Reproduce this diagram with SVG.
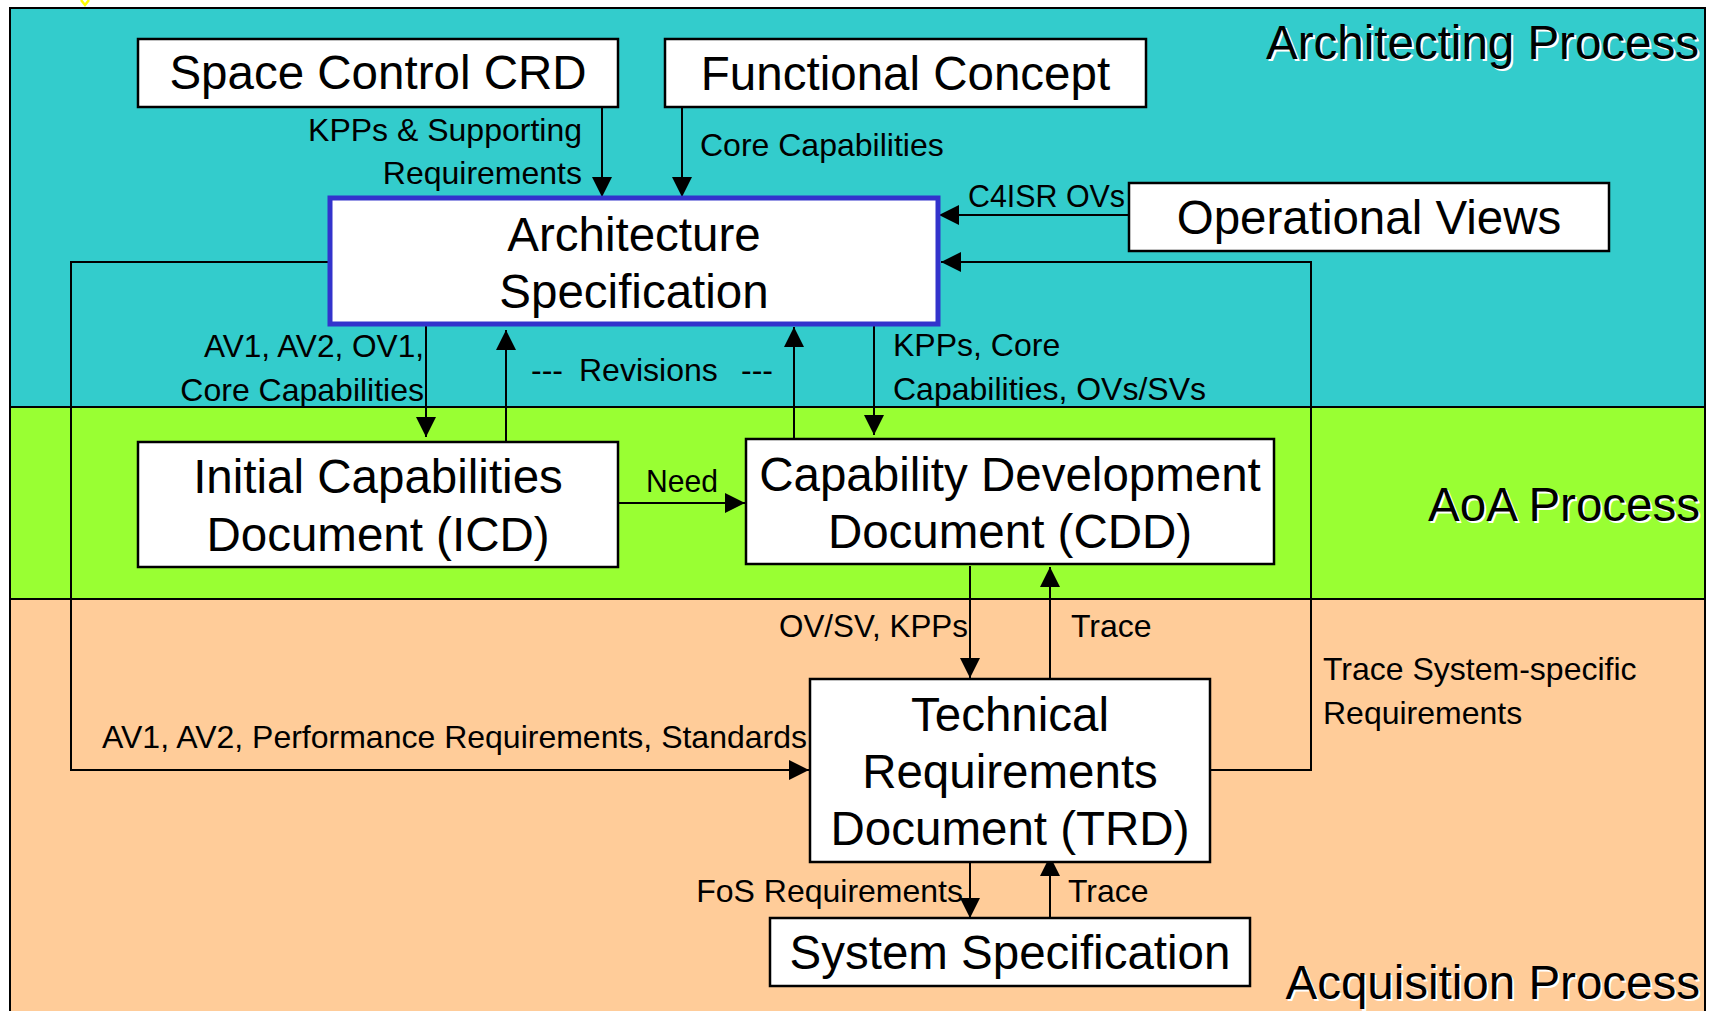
<svg xmlns="http://www.w3.org/2000/svg" width="1711" height="1011" viewBox="0 0 1711 1011">
  <style>
    .box { fill: #FFFFFF; stroke: #000000; stroke-width: 2.5; }
    .arch { fill: #FFFFFF; stroke: #3333CC; stroke-width: 5; }
    .big { font-family: "Liberation Sans", Arial, sans-serif; font-size: 47.5px; fill: #000000; text-anchor: middle; }
    .lbl { font-family: "Liberation Sans", Arial, sans-serif; font-size: 32px; fill: #000000; }
    .end { text-anchor: end; }
    .region { font-family: "Liberation Sans", Arial, sans-serif; font-size: 47.5px; text-anchor: end; }
    .shadow { fill: #FFFFFF; }
    .ink { fill: #000000; }
    .conn { fill: none; stroke: #000000; stroke-width: 2; }
    .band { stroke: #000000; stroke-width: 2; }
  </style>
  <defs>
    <marker id="arrow" markerUnits="userSpaceOnUse" markerWidth="20" markerHeight="20" refX="20" refY="10" orient="auto">
      <path d="M0,0 L20,10 L0,20 z" fill="#000000"/>
    </marker>
  </defs>

  <!-- page background -->
  <rect x="0" y="0" width="1711" height="1011" fill="#FFFFFF"/>
  <path d="M81,0 L85,5 L89,0" fill="none" stroke="#FFFF00" stroke-width="2.5"/>

  <!-- process bands -->
  <g id="bands">
    <rect x="10" y="8" width="1695" height="399" fill="#33CCCC"/>
    <rect x="10" y="407" width="1695" height="192" fill="#99FF33"/>
    <rect x="10" y="599" width="1695" height="420" fill="#FFCC99"/>
    <path class="band" d="M10,1011 V8 H1705 V1011 M10,407 H1705 M10,599 H1705" fill="none"/>
  </g>

  <!-- band titles -->
  <g id="region-labels" class="region">
    <text class="shadow" x="1701" y="61">Architecting Process</text>
    <text class="ink" x="1699" y="59">Architecting Process</text>
    <text class="shadow" x="1702" y="523">AoA Process</text>
    <text class="ink" x="1700" y="521">AoA Process</text>
    <text class="shadow" x="1702" y="1001">Acquisition Process</text>
    <text class="ink" x="1700" y="999">Acquisition Process</text>
  </g>

  <!-- connectors -->
  <g id="connectors" class="conn">
    <path d="M602,103 V197" marker-end="url(#arrow)"/>
    <path d="M682,103 V197" marker-end="url(#arrow)"/>
    <path d="M1129,215 H939" marker-end="url(#arrow)"/>
    <path d="M1210,770 H1311 V262 H941" marker-end="url(#arrow)"/>
    <path d="M330,262 H71 V770 H809" marker-end="url(#arrow)"/>
    <path d="M426,326 V437" marker-end="url(#arrow)"/>
    <path d="M506,442 V330" marker-end="url(#arrow)"/>
    <path d="M794,439 V327" marker-end="url(#arrow)"/>
    <path d="M874,326 V435" marker-end="url(#arrow)"/>
    <path d="M618,503 H745" marker-end="url(#arrow)"/>
    <path d="M970,566 V678" marker-end="url(#arrow)"/>
    <path d="M1050,679 V567" marker-end="url(#arrow)"/>
    <path d="M970,855 V918" marker-end="url(#arrow)"/>
    <path d="M1050,918 V856" marker-end="url(#arrow)"/>
  </g>

  <!-- connector labels -->
  <g id="connector-labels" class="lbl">
    <text class="end" x="582" y="141">KPPs &amp; Supporting</text>
    <text class="end" x="582" y="184">Requirements</text>
    <text x="700" y="156">Core Capabilities</text>
    <text x="968" y="207" textLength="157" lengthAdjust="spacingAndGlyphs">C4ISR OVs</text>
    <text x="204" y="357" textLength="220" lengthAdjust="spacingAndGlyphs">AV1, AV2, OV1,</text>
    <text class="end" x="424" y="401">Core Capabilities</text>
    <text x="531" y="381">---</text>
    <text x="579" y="381">Revisions</text>
    <text x="741" y="381">---</text>
    <text x="893" y="356">KPPs, Core</text>
    <text x="893" y="400">Capabilities, OVs/SVs</text>
    <text x="646" y="492" textLength="72" lengthAdjust="spacingAndGlyphs">Need</text>
    <text x="779" y="637" textLength="189" lengthAdjust="spacingAndGlyphs">OV/SV, KPPs</text>
    <text x="1071" y="637">Trace</text>
    <text x="1323" y="680">Trace System-specific</text>
    <text x="1323" y="724">Requirements</text>
    <text class="end" x="807" y="748">AV1, AV2, Performance Requirements, Standards</text>
    <text class="end" x="963" y="902">FoS Requirements</text>
    <text x="1068" y="902">Trace</text>
  </g>

  <!-- nodes -->
  <g id="space-control-crd">
    <rect class="box" x="138" y="39" width="480" height="68"/>
    <text class="big" x="378" y="89">Space Control CRD</text>
  </g>
  <g id="functional-concept">
    <rect class="box" x="665" y="39" width="481" height="68"/>
    <text class="big" x="905.5" y="90">Functional Concept</text>
  </g>
  <g id="operational-views">
    <rect class="box" x="1129" y="183" width="480" height="68"/>
    <text class="big" x="1369" y="234">Operational Views</text>
  </g>
  <g id="architecture-specification">
    <rect class="arch" x="330" y="198" width="608" height="126"/>
    <text class="big" x="634" y="251">Architecture</text>
    <text class="big" x="634" y="308">Specification</text>
  </g>
  <g id="icd">
    <rect class="box" x="138" y="442" width="480" height="125"/>
    <text class="big" x="378" y="493">Initial Capabilities</text>
    <text class="big" x="378" y="551">Document (ICD)</text>
  </g>
  <g id="cdd">
    <rect class="box" x="746" y="439" width="528" height="125"/>
    <text class="big" x="1010" y="491">Capability Development</text>
    <text class="big" x="1010" y="548">Document (CDD)</text>
  </g>
  <g id="trd">
    <rect class="box" x="810" y="679" width="400" height="183"/>
    <text class="big" x="1010" y="731">Technical</text>
    <text class="big" x="1010" y="788">Requirements</text>
    <text class="big" x="1010" y="845">Document (TRD)</text>
  </g>
  <g id="system-specification">
    <rect class="box" x="770" y="918" width="480" height="68"/>
    <text class="big" x="1010" y="969">System Specification</text>
  </g>
</svg>
